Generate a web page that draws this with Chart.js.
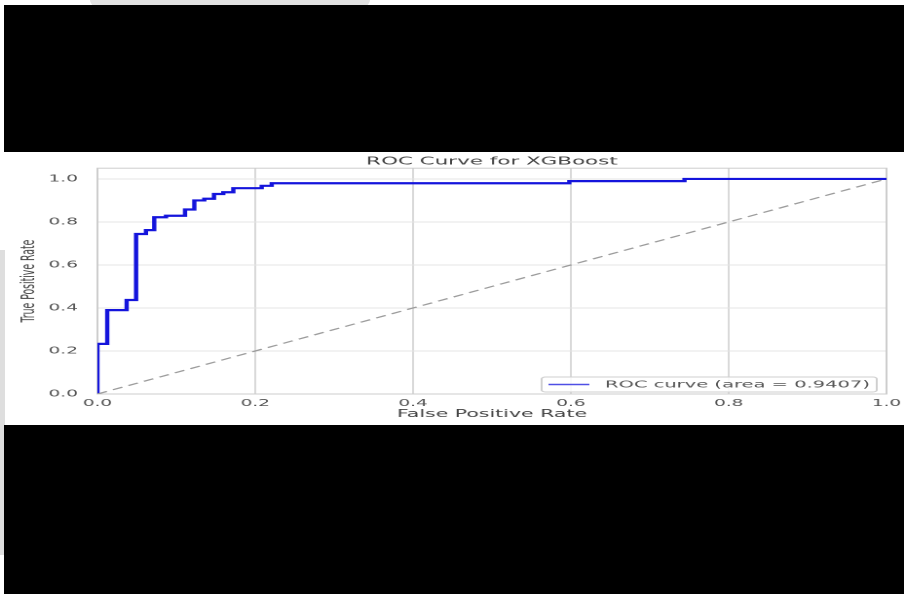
<!DOCTYPE html>
<html>
<head>
<meta charset="utf-8">
<script src="https://cdn.jsdelivr.net/npm/chart.js@4.4.1/dist/chart.umd.min.js"></script>
<style>
  html, body { margin: 0; padding: 0; background: #fff; width: 904px; height: 594px; overflow: hidden; }
  body { position: relative; }
  .block { position: absolute; }
  /* the figure is drawn narrow and stretched sideways to the page width */
  #plot { position: absolute; left: 0; top: 152px; width: 464px; height: 273px;
          transform: scaleX(1.9483); transform-origin: 0 0; }
</style>
</head>
<body>
<div class="block" style="left:90px;top:0;width:280px;height:6px;background:#e2e2e2;border-radius:0 0 40px 40px"></div>
<div class="block" style="left:0;top:250px;width:5px;height:305px;background:#dedede"></div>
<div class="block" style="left:4px;top:5px;width:900px;height:147px;background:#000"></div>
<div class="block" style="left:4px;top:425px;width:900px;height:169px;background:#000"></div>
<div id="plot"><canvas id="roc" width="464" height="273"></canvas></div>
<script>
// ROC operating points (false positive rate, true positive rate)
const fpr = [0, 0, 0.0124, 0.0124, 0.037, 0.037, 0.049, 0.049, 0.0615, 0.0615,
             0.072, 0.072, 0.0869, 0.0869, 0.111, 0.111, 0.1228, 0.1228, 0.1354, 0.1354,
             0.1477, 0.1477, 0.1595, 0.1595, 0.1722, 0.1722, 0.2082, 0.2082, 0.2209, 0.2209,
             0.598, 0.598, 0.744, 0.744, 1.0];
const tpr = [0, 0.233, 0.233, 0.39, 0.39, 0.437, 0.437, 0.744, 0.744, 0.762,
             0.762, 0.822, 0.822, 0.829, 0.829, 0.858, 0.858, 0.9, 0.9, 0.908,
             0.908, 0.93, 0.93, 0.938, 0.938, 0.957, 0.957, 0.968, 0.968, 0.98,
             0.98, 0.99, 0.99, 1.0, 1.0];
// chance diagonal
const chanceLine = [0, 1];
const tickValues = [0, 0.2, 0.4, 0.6, 0.8, 1.0];
const curveLabel = 'ROC curve (area = 0.9407)';
const chartTitle = 'ROC Curve for XGBoost';
const xTitle = 'False Positive Rate';
const yTitle = 'True Positive Rate';

const FONT = "'DejaVu Sans', sans-serif";

// light frame around the axes
const axesFrame = {
  id: 'axesFrame',
  beforeDatasetsDraw(chart) {
    const { ctx, chartArea: a } = chart;
    ctx.save();
    ctx.strokeStyle = '#cdcdcd';
    ctx.lineWidth = 1;
    ctx.strokeRect(a.left, a.top, a.right - a.left, a.bottom - a.top);
    ctx.restore();
  }
};

// legend box in the lower right corner of the axes
const cornerLegend = {
  id: 'cornerLegend',
  afterDraw(chart) {
    const { ctx, chartArea: a } = chart;
    const ds = chart.data.datasets[0];
    ctx.save();
    ctx.font = '10px ' + FONT;
    const w = ctx.measureText(ds.label).width;
    const boxRight = a.right - 5;
    const boxBottom = a.bottom - 2;
    const boxTop = boxBottom - 15;
    const textRight = boxRight - 3.5;
    const textLeft = textRight - w;
    const lineEnd = textLeft - 8;
    const lineStart = lineEnd - 21;
    const boxLeft = lineStart - 3.5;
    const midY = (boxTop + boxBottom) / 2;
    ctx.fillStyle = 'rgba(255,255,255,0.85)';
    ctx.strokeStyle = '#cfcfcf';
    ctx.lineWidth = 1;
    ctx.beginPath();
    ctx.roundRect(boxLeft, boxTop, boxRight - boxLeft, boxBottom - boxTop, 2);
    ctx.fill();
    ctx.stroke();
    ctx.strokeStyle = ds.borderColor;
    ctx.globalAlpha = 0.75;
    ctx.lineWidth = 1.5;
    ctx.beginPath();
    ctx.moveTo(lineStart, midY);
    ctx.lineTo(lineEnd, midY);
    ctx.stroke();
    ctx.globalAlpha = 1;
    ctx.fillStyle = '#555';
    ctx.textBaseline = 'middle';
    ctx.textAlign = 'left';
    ctx.fillText(ds.label, textLeft, midY + 0.5);
    ctx.restore();
  }
};

const useTicks = scale => { scale.ticks = tickValues.map(v => ({ value: v })); };

new Chart(document.getElementById('roc'), {
  type: 'scatter',
  data: {
    datasets: [
      {
        label: curveLabel,
        data: fpr.map((x, i) => ({ x, y: tpr[i] })),
        showLine: true,
        borderColor: '#1414dc',
        borderWidth: 2.2,
        pointRadius: 0,
        tension: 0,
        fill: false,
        order: 1
      },
      {
        label: 'chance',
        data: chanceLine.map(v => ({ x: v, y: v })),
        showLine: true,
        borderColor: '#9c9c9c',
        borderWidth: 1.2,
        borderDash: [5.5, 3.5],
        pointRadius: 0,
        fill: false,
        order: 0
      }
    ]
  },
  options: {
    responsive: false,
    animation: false,
    devicePixelRatio: 2,
    layout: { padding: { left: 0, right: 9, top: 0, bottom: 0 } },
    plugins: {
      legend: { display: false },
      tooltip: { enabled: false },
      title: {
        display: true,
        text: chartTitle,
        fullSize: false,
        color: '#444',
        font: { family: FONT, size: 11, weight: 'normal' },
        padding: { top: 3, bottom: 0 }
      }
    },
    scales: {
      x: {
        type: 'linear',
        min: 0,
        max: 1,
        afterBuildTicks: useTicks,
        afterFit: s => { s.height = 31; s.paddingLeft = 0; s.paddingRight = 0; },
        border: { display: false },
        grid: { color: '#d9d9d9', lineWidth: 1, drawTicks: false },
        ticks: {
          padding: 4,
          color: '#555',
          font: { family: FONT, size: 9.5 },
          callback: v => Number(v).toFixed(1),
          maxRotation: 0
        },
        title: {
          display: true,
          text: xTitle,
          color: '#444',
          font: { family: FONT, size: 10.5 },
          padding: { top: 0, bottom: 4.6 }
        }
      },
      y: {
        type: 'linear',
        min: 0,
        max: 1.05,
        afterBuildTicks: useTicks,
        afterFit: s => { s.width = 50; s.paddingTop = 0; s.paddingBottom = 0; },
        border: { display: false },
        grid: { color: '#e4e4e4', lineWidth: 1, drawTicks: false },
        ticks: {
          padding: 10,
          color: '#555',
          font: { family: FONT, size: 9.5 },
          callback: v => Number(v).toFixed(1)
        },
        title: {
          display: true,
          text: yTitle,
          color: '#444',
          font: { family: FONT, size: 9.3 },
          padding: { top: 9.5, bottom: 0 }
        }
      }
    }
  },
  plugins: [axesFrame, cornerLegend]
});
</script>
</body>
</html>
